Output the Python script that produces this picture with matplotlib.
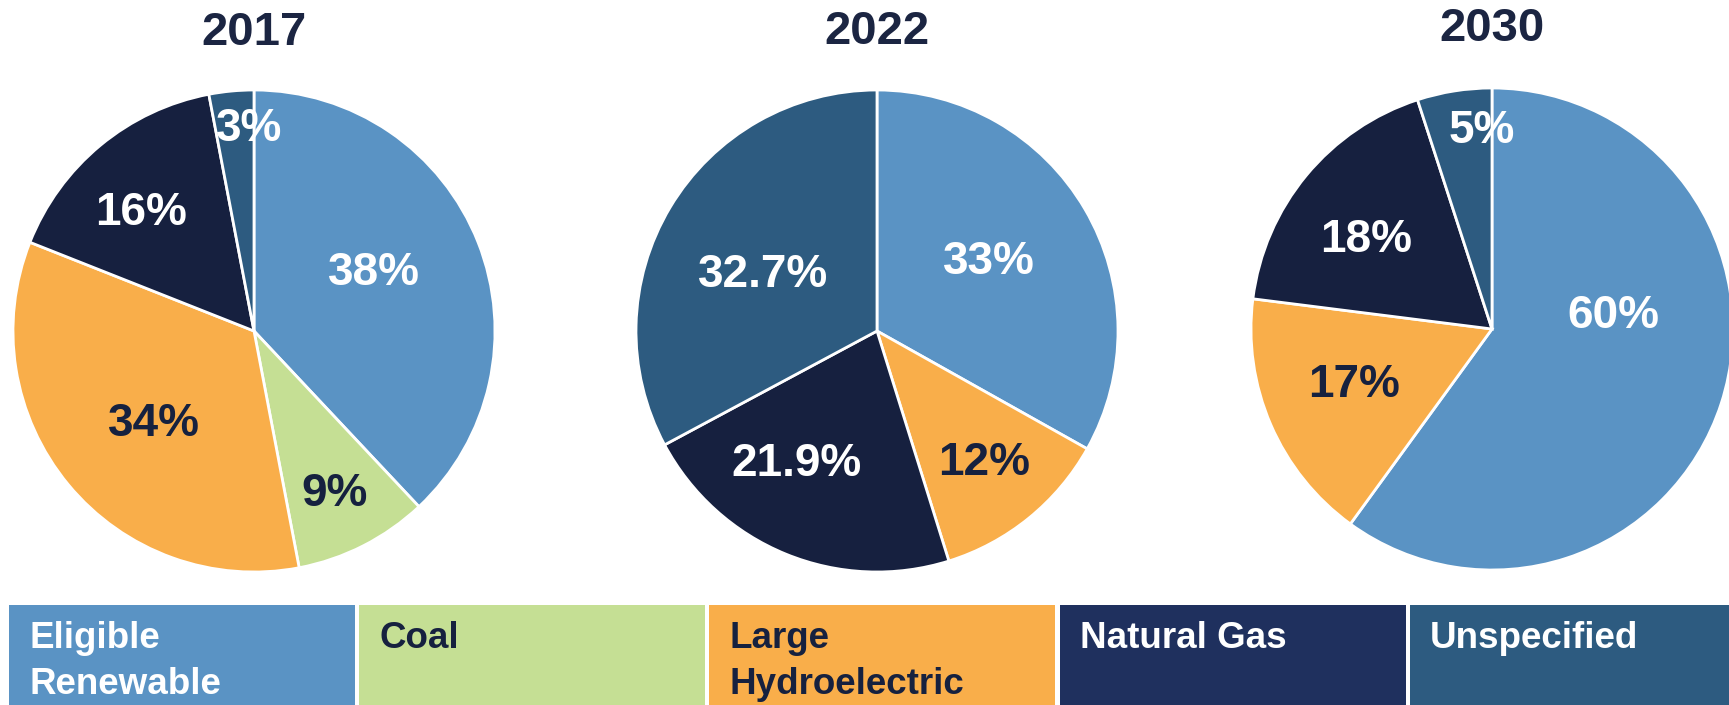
import numpy as np
import matplotlib.pyplot as plt
from matplotlib.patches import Rectangle

plt.rcParams['font.family'] = ['Liberation Sans', 'DejaVu Sans']

# generation mix by source, percent
years = ["2017", "2022", "2030"]
sources = ["Eligible\nRenewable", "Coal", "Large\nHydroelectric", "Natural Gas", "Unspecified"]
mix_2017 = [38, 9, 34, 16, 3]
mix_2022 = [33, 0, 12, 21.9, 32.7]
mix_2030 = [60, 0, 17, 18, 5]
mixes = [mix_2017, mix_2022, mix_2030]

pie_colors = ["#5A93C4", "#C5DF94", "#F9AE4A", "#16203F", "#2D5B80"]
key_colors = ["#5A93C4", "#C5DF94", "#F9AE4A", "#1F305E", "#2D5B80"]
dark = "#16213F"
text_colors = ["white", dark, dark, "white", "white"]

# label placement: radial distance (fraction of radius) and clockwise nudge in degrees
label_dist = [[0.56, 0.74, 0.555, 0.69, 0.856],
              [0.555, 0.69, 0.63, 0.535],
              [0.51, 0.61, 0.65, 0.84]]
label_nudge = [[-6, 0, -2, -3, 4],
               [-3, -1, 10, -3],
               [-26, 3, -3, 6]]

W, H = 1729, 705
R = 241
centers = [(254, 331), (877, 331), (1492, 329)]
title_base = [45, 44, 41]
lab_fs = 33

fig = plt.figure(figsize=(W / 100, H / 100), dpi=100)

for k, (year, vals) in enumerate(zip(years, mixes)):
    cx, cy = centers[k]
    ax = fig.add_axes([(cx - R) / W, (H - cy - R) / H, 2 * R / W, 2 * R / H])
    keep = [i for i, v in enumerate(vals) if v > 0]
    wedges, _ = ax.pie([vals[i] for i in keep],
                       colors=[pie_colors[i] for i in keep],
                       startangle=90, counterclock=False, radius=1,
                       wedgeprops=dict(edgecolor="white", linewidth=2))
    ax.set_xlim(-1, 1)
    ax.set_ylim(-1, 1)
    for w, i, d, s in zip(wedges, keep, label_dist[k], label_nudge[k]):
        mid = np.deg2rad((w.theta1 + w.theta2) / 2 - s)
        ax.annotate(f"{vals[i]:g}%", (d * np.cos(mid), d * np.sin(mid)),
                    xytext=(0, -0.358 * lab_fs), textcoords="offset points",
                    ha="center", va="baseline", fontsize=lab_fs,
                    fontweight="bold", color=text_colors[i])
    fig.text(cx / W, 1 - title_base[k] / H, year, ha="center", va="baseline",
             fontsize=34, fontweight="bold", color="#1B2542")

# color key strip along the bottom
cell_x0, cell_pitch, cell_w = 9, 350.2, 346
cell_top = 605
for i, name in enumerate(sources):
    x0 = cell_x0 + i * cell_pitch
    fig.add_artist(Rectangle((x0 / W, 0), cell_w / W, (H - cell_top) / H,
                             transform=fig.transFigure, facecolor=key_colors[i],
                             edgecolor="none"))
    for j, line in enumerate(name.split("\n")):
        fig.text((x0 + 20) / W, 1 - (648 + 46 * j) / H, line, ha="left",
                 va="baseline", fontsize=26.5, fontweight="bold",
                 color=text_colors[i])

fig.savefig("out.png", dpi=100, facecolor="white")
